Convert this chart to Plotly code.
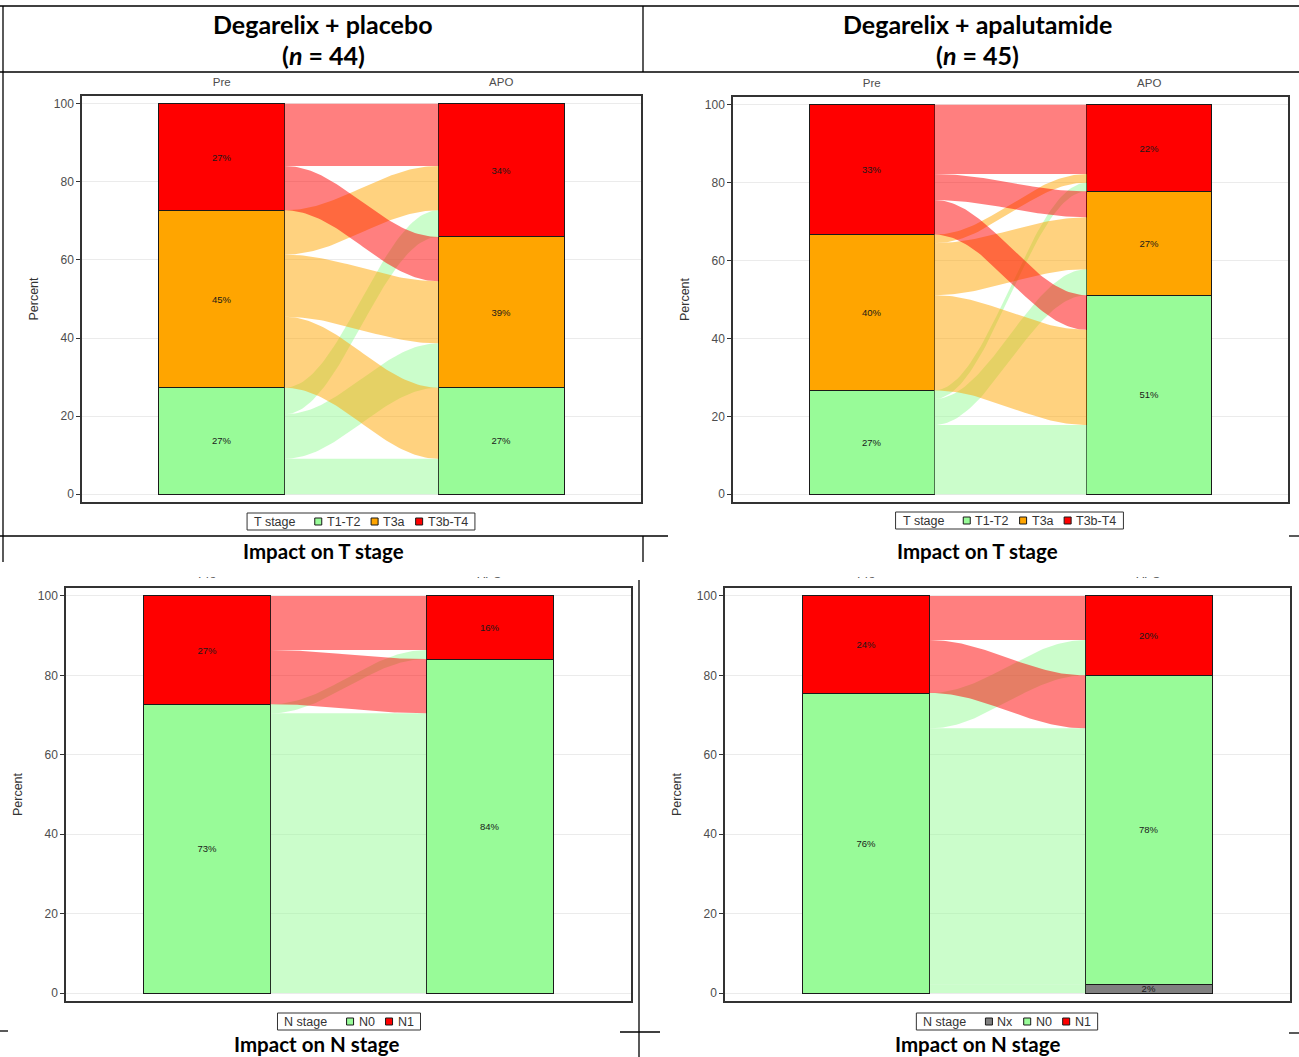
import numpy as np
import plotly.graph_objects as go

W, H = 1299, 1057

# ---------------------------------------------------------------- data
TIMEPOINTS = ["Pre", "APO"]
T_STAGES = ["T1-T2", "T3a", "T3b-T4"]            # stacked bottom to top
N_STAGES_PLACEBO = ["N0", "N1"]
N_STAGES_APALUTAMIDE = ["Nx", "N0", "N1"]

# patients moving from Pre stage (rows) to APO stage (columns)
T_PLACEBO = [
    [4, 5, 3],     # T1-T2  -> T1-T2, T3a, T3b-T4
    [8, 7, 5],     # T3a    ->
    [0, 5, 7],     # T3b-T4 ->
]
T_APALUTAMIDE = [
    [8, 3, 1],
    [11, 6, 1],
    [4, 3, 8],
]
N_PLACEBO = [
    [31, 1],       # N0 -> N0, N1
    [6, 6],        # N1 ->
]
N_APALUTAMIDE = [
    [0, 0, 0],     # Nx -> Nx, N0, N1
    [1, 29, 4],    # N0 ->
    [0, 6, 5],     # N1 ->
]

ARM_TITLES = ["Degarelix + placebo", "Degarelix + apalutamide"]
ARM_N = [44, 45]
ROW_TITLES = ["Impact on T stage", "Impact on N stage"]

STAGE_COLORS = {
    "T1-T2": (152, 251, 152),
    "T3a": (255, 165, 0),
    "T3b-T4": (255, 0, 0),
    "Nx": (128, 128, 128),
    "N0": (152, 251, 152),
    "N1": (255, 0, 0),
}

# ---------------------------------------------------------------- style
FONT = "Liberation Sans"
TITLE_FONT = "Lato"
INK = "#1a1a1a"
FRAME = "#333333"
TICK_GREY = "#4d4d4d"
BAR_WIDTH = 0.45
FLOW_ALPHA = 0.5
LEGEND_SIZE = 12.5

PANELS = [
    dict(matrix=T_PLACEBO, stages=T_STAGES, legend_title="T stage"),
    dict(matrix=T_APALUTAMIDE, stages=T_STAGES, legend_title="T stage"),
    dict(matrix=N_PLACEBO, stages=N_STAGES_PLACEBO, legend_title="N stage"),
    dict(matrix=N_APALUTAMIDE, stages=N_STAGES_APALUTAMIDE, legend_title="N stage"),
]
# plot boxes in pixels: left, top, right, bottom
PANEL_BOXES = [(82, 96, 641, 502), (733, 97, 1288, 502),
               (66, 588, 631, 1001), (725, 588, 1290, 1001)]
LEGEND_CENTERS = [(361, 521.5), (1009.5, 520.5), (349, 1021.5), (1007, 1021.5)]

# Arial / Liberation Sans advance widths (per 1000 em) for legend layout
GLYPH_W = {"T": 611, " ": 278, "s": 500, "t": 278, "a": 556, "g": 556, "e": 556,
           "1": 556, "2": 556, "3": 556, "4": 556, "0": 556, "-": 333, "b": 556,
           "N": 722, "x": 500}


def text_width(s, size):
    return sum(GLYPH_W.get(c, 556) for c in s) * size / 1000


def px(x):
    return x / W


def py(y):
    return 1 - y / H


def rgba(rgb, a=1.0):
    return f"rgba({rgb[0]},{rgb[1]},{rgb[2]},{a})"


def flow_bands(pct):
    """Vertical extents of every Pre->APO flow at both axes (ggalluvial style)."""
    k = pct.shape[0]
    pre, apo = pct.sum(axis=1), pct.sum(axis=0)
    left, right = {}, {}
    for i in range(k):
        top = pre[: i + 1].sum()
        for j in reversed(range(k)):
            left[i, j] = (top, top - pct[i, j])
            top -= pct[i, j]
    for j in range(k):
        top = apo[: j + 1].sum()
        for i in reversed(range(k)):
            right[i, j] = (top, top - pct[i, j])
            top -= pct[i, j]
    return [(i, j, *left[i, j], *right[i, j])
            for i in range(k) for j in range(k) if pct[i, j] > 0]


fig = go.Figure()
layout = {}
shapes = []
annotations = []

t = np.linspace(0, 1, 60)
ease = (1 - np.cos(np.pi * t)) / 2
x0, x1 = 1 + BAR_WIDTH / 2, 2 - BAR_WIDTH / 2
xs = x0 + (x1 - x0) * t


def add_legend(title, stages, cx, cy):
    """Boxed horizontal key: title, then a swatch + label per stage."""
    pad, gap_title, gap_sw, gap_item, sw = 7, 19, 5, 11, 7
    widths = [text_width(s, LEGEND_SIZE) for s in stages]
    total = (2 * pad + text_width(title, LEGEND_SIZE) + gap_title + sum(widths)
             + len(stages) * (sw + gap_sw) + (len(stages) - 1) * gap_item)
    left = cx - total / 2
    shapes.append(dict(type="rect", xref="paper", yref="paper",
                       x0=px(left), x1=px(left + total), y0=py(cy + 8.5), y1=py(cy - 8.5),
                       line=dict(color=FRAME, width=1), fillcolor="white", layer="above"))
    font = dict(family=FONT, size=LEGEND_SIZE, color=FRAME)
    x = left + pad
    annotations.append(dict(x=px(x), y=py(cy), text=title, font=font, xanchor="left"))
    x += text_width(title, LEGEND_SIZE) + gap_title
    for stage, w in zip(stages, widths):
        shapes.append(dict(type="rect", xref="paper", yref="paper",
                           x0=px(x), x1=px(x + sw), y0=py(cy + sw / 2), y1=py(cy - sw / 2),
                           fillcolor=rgba(STAGE_COLORS[stage]),
                           line=dict(color=INK, width=1), layer="above"))
        x += sw + gap_sw
        annotations.append(dict(x=px(x), y=py(cy), text=stage, font=font, xanchor="left"))
        x += w + gap_item


for k, (panel, box, legc) in enumerate(zip(PANELS, PANEL_BOXES, LEGEND_CENTERS), start=1):
    sfx = "" if k == 1 else str(k)
    xa, ya = "x" + sfx, "y" + sfx
    m = np.array(panel["matrix"], dtype=float)
    pct = m / m.sum() * 100
    pre, apo = pct.sum(axis=1), pct.sum(axis=0)
    stages = panel["stages"]

    # flows, coloured by the Pre stage
    for i, j, lt, lb, rt, rb in flow_bands(pct):
        top = lt + (rt - lt) * ease
        bot = lb + (rb - lb) * ease
        fig.add_trace(go.Scatter(
            x=np.concatenate([xs, xs[::-1]]), y=np.concatenate([top, bot[::-1]]),
            xaxis=xa, yaxis=ya, mode="lines", line=dict(width=0),
            fill="toself", fillcolor=rgba(STAGE_COLORS[stages[i]], FLOW_ALPHA),
            showlegend=False, hoverinfo="skip"))

    # stacked strata
    for s, stage in enumerate(stages):
        vals = [pre[s], apo[s]]
        fig.add_trace(go.Bar(
            x=[1, 2], y=[v if v > 0 else None for v in vals], width=BAR_WIDTH,
            xaxis=xa, yaxis=ya, name=stage, showlegend=False,
            marker=dict(color=rgba(STAGE_COLORS[stage]), line=dict(color=INK, width=1)),
            text=[f"{round(v)}%" if v > 0 else "" for v in vals],
            textposition="inside", insidetextanchor="middle", textangle=0,
            constraintext="none", textfont=dict(family=FONT, size=9.5, color=INK),
            hovertemplate=stage + ": %{y:.1f}%<extra></extra>"))

    layout["xaxis" + sfx] = dict(
        domain=[px(box[0]), px(box[2])], anchor=ya, range=[0.5, 2.5], side="top",
        tickvals=[1, 2], ticktext=TIMEPOINTS, ticks="", showgrid=False, zeroline=False,
        showline=True, mirror=True, linecolor=FRAME, linewidth=1.5,
        tickfont=dict(family=FONT, size=11.5, color=TICK_GREY), ticklabelstandoff=4,
        fixedrange=True)
    layout["yaxis" + sfx] = dict(
        domain=[py(box[3]), py(box[1])], anchor=xa, range=[-2, 102],
        tickvals=[0, 20, 40, 60, 80, 100], ticks="outside", ticklen=4, tickwidth=1,
        tickcolor=FRAME, showgrid=True, gridcolor="#ebebeb", gridwidth=1,
        zeroline=False, showline=True, mirror=True, linecolor=FRAME, linewidth=1.5,
        tickfont=dict(family=FONT, size=12, color=TICK_GREY),
        title=dict(text="Percent", font=dict(family=FONT, size=12.5, color=FRAME), standoff=12),
        fixedrange=True)
    add_legend(panel["legend_title"], stages, *legc)

# header and row titles
for cx, title, n in zip([323, 977], ARM_TITLES, ARM_N):
    annotations.append(dict(x=px(cx), y=py(24), text=f"<b>{title}</b>",
                            font=dict(family=TITLE_FONT, size=25, color="black")))
    annotations.append(dict(x=px(cx), y=py(55), text=f"<b>(<i>n</i> = {n})</b>",
                            font=dict(family=TITLE_FONT, size=25, color="black")))
for (cx, cy), title in zip([(323, 551), (977, 551), (316, 1044), (977, 1044)],
                           [ROW_TITLES[0], ROW_TITLES[0], ROW_TITLES[1], ROW_TITLES[1]]):
    annotations.append(dict(x=px(cx), y=py(cy), text=f"<b>{title}</b>",
                            font=dict(family=TITLE_FONT, size=20.5, color="black")))
for a in annotations:
    a.setdefault("xanchor", "center")
    a.update(xref="paper", yref="paper", showarrow=False, yanchor="middle",
             borderpad=0, borderwidth=0)


# table rules around the panels
def hline(y, xa_, xb_):
    return dict(type="line", xref="paper", yref="paper", x0=px(xa_), x1=px(xb_),
                y0=py(y), y1=py(y), line=dict(color="black", width=1.3), layer="above")


def vline(x, ya_, yb_):
    return dict(type="line", xref="paper", yref="paper", x0=px(x), x1=px(x),
                y0=py(ya_), y1=py(yb_), line=dict(color="black", width=1.3), layer="above")


shapes = [
    # strip hiding the clipped upper edge of the lower row
    dict(type="rect", xref="paper", yref="paper", x0=0, x1=1, y0=py(577), y1=py(561),
         fillcolor="white", line=dict(width=0), layer="above"),
    hline(6, 0, 1299), hline(72, 0, 1299), vline(3, 6, 562), vline(643, 6, 72),
    hline(536, 0, 668), vline(643, 536, 562), hline(536, 1289, 1299),
    vline(639, 580, 1057), hline(1032, 620, 660), hline(1031, 0, 8), hline(1033, 1289, 1299),
] + shapes

fig.update_layout(
    width=W, height=H, autosize=False, margin=dict(l=0, r=0, t=0, b=0),
    paper_bgcolor="white", plot_bgcolor="white", barmode="stack", showlegend=False,
    annotations=annotations, shapes=shapes, font=dict(family=FONT),
    **layout)

fig.write_html("out.html")
